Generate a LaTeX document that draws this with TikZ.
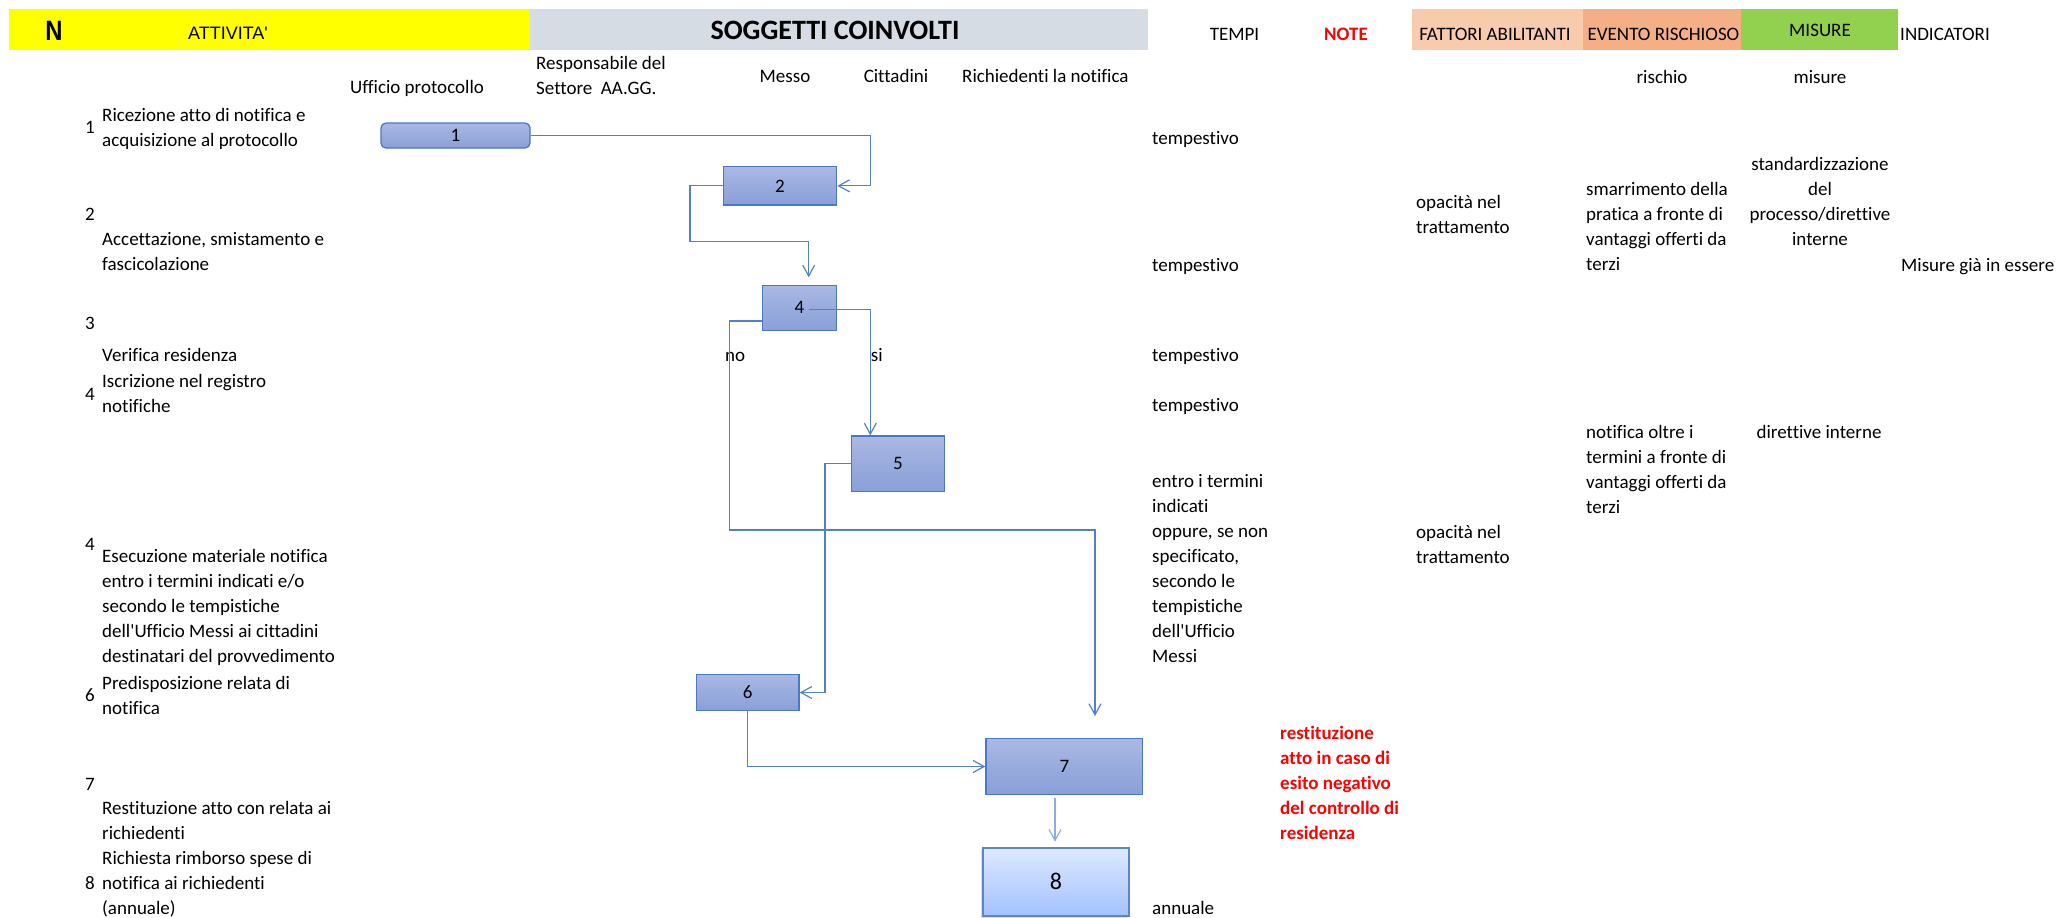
\documentclass[tikz,border=0pt]{standalone}
\usepackage{fontspec}
\usepackage{graphicx}
\setmainfont{Carlito}[Ligatures={NoCommon}]
\newfontfamily\arialfont{Liberation Sans}
\usetikzlibrary{arrows.meta,calc,shadows}

\definecolor{hdryellow}{HTML}{FFFF00}
\definecolor{hdrgray}{HTML}{D6DCE4}
\definecolor{hdrpeach}{HTML}{F8CBAD}
\definecolor{hdrsalmon}{HTML}{F4B084}
\definecolor{hdrgreen}{HTML}{92D050}
\definecolor{boxtop}{HTML}{AAB8E3}
\definecolor{boxbot}{HTML}{889FD8}
\definecolor{boxline}{HTML}{4A77C8}
\definecolor{linkblue}{HTML}{5080CE}
\definecolor{linklight}{HTML}{8DACE0}
\definecolor{endtop}{HTML}{DDE9FF}
\definecolor{endbot}{HTML}{A3C2FF}
\definecolor{endline}{HTML}{5A86C6}

% stacked lines, first baseline on the node's base
\newcommand{\rowsl}[1]{\begin{tabular}[t]{@{}l@{}}#1\end{tabular}}
\newcommand{\rowsc}[1]{\begin{tabular}[t]{@{}c@{}}#1\end{tabular}}

\tikzset{
  body/.style={font=\fontsize{19}{25}\selectfont},
  txt/.style={body, inner sep=0, anchor=base west},
  ctxt/.style={body, inner sep=0, anchor=base},
  num/.style={ctxt},
  note/.style={txt, text=red, font=\fontsize{19}{25}\selectfont\bfseries},
  band/.style={inner sep=0, outer sep=0, draw=none, anchor=north west, minimum height=40.5pt},
  stepbox/.style={draw=boxline, line width=1.3pt, top color=boxtop, bottom color=boxbot, inner sep=0, body},
  conn/.style={draw=linkblue, line width=1.2pt, -{Straight Barb[length=11pt,width=12pt]}},
}

\begin{document}
\begin{tikzpicture}[x=1pt, y=-1pt]
\useasboundingbox (0,0) rectangle (2059,918);

% header bands
\node[band, fill=hdryellow, minimum width=521pt] (hyel) at (9,9) {};
\node[band, fill=hdrgray, minimum width=618pt] (hgry) at (530,9) {};
\node[band, fill=hdrpeach, minimum width=171.3pt] (hpch) at (1411.7,9) {};
\node[band, fill=hdrsalmon, minimum width=158pt] (hsal) at (1583,9) {};
\node[band, fill=hdrgreen, minimum width=157pt] (hgrn) at (1741,9) {};

% header titles
\node[ctxt, font={\fontsize{28}{32}\selectfont\arialfont\bfseries}] (tn) at (54,40) {\scalebox{0.85}[1]{N}};
\node[ctxt, font={\fontsize{18}{22}\selectfont\arialfont}] (tatt) at (228,39.5) {ATTIVITA\textquotesingle};
\node[ctxt, font={\fontsize{28}{34}\selectfont\bfseries}] (tsog) at (835,39) {SOGGETTI COINVOLTI};
\node[ctxt] (ttem) at (1234.5,40) {TEMPI};
\node[ctxt, text=red, font={\fontsize{19}{25}\selectfont\bfseries}] (tnot) at (1346,40) {NOTE};
\node[ctxt] (tfat) at (1495,40) {FATTORI ABILITANTI};
\node[ctxt] (tevt) at (1663.5,40) {EVENTO RISCHIOSO};
\node[ctxt] (tmis) at (1820,36) {MISURE};
\node[txt] (tind) at (1900,40) {INDICATORI};

% subjects and sub-headings
\node[ctxt] (s1) at (417,93) {Ufficio protocollo};
\node[txt] (s2) at (536,69) {\rowsl{Responsabile del\\Settore\ \ AA.GG.}};
\node[ctxt] (s3) at (785,82) {Messo};
\node[ctxt] (s4) at (896,82) {Cittadini};
\node[txt] (s5) at (962,82) {Richiedenti la notifica};
\node[ctxt] (r1) at (1662,83) {rischio};
\node[ctxt] (r2) at (1820,83) {misure};

% activity column
\node[num] (n1) at (90,133) {1};
\node[txt] (a1) at (102,121) {\rowsl{Ricezione atto di notifica e\\acquisizione al protocollo}};
\node[num] (n2) at (90,220) {2};
\node[txt] (a2) at (102,245) {\rowsl{Accettazione, smistamento e\\fascicolazione}};
\node[num] (n3) at (90,329) {3};
\node[txt] (a3) at (102,361) {Verifica residenza};
\node[num] (n4) at (90,400) {4};
\node[txt] (a4) at (102,387) {\rowsl{Iscrizione nel registro\\notifiche}};
\node[num] (n5) at (90,550) {4};
\node[txt] (a5) at (102,562) {\rowsl{Esecuzione materiale notifica\\entro i termini indicati e/o\\secondo le tempistiche\\dell\textquotesingle Ufficio Messi ai cittadini\\destinatari del provvedimento}};
\node[num] (n6) at (90,701) {6};
\node[txt] (a6) at (102,689) {\rowsl{Predisposizione relata di\\notifica}};
\node[num] (n7) at (90,790) {7};
\node[txt] (a7) at (102,814) {\rowsl{Restituzione atto con relata ai\\richiedenti}};
\node[num] (n8) at (90,889) {8};
\node[txt] (a8) at (102,864) {\rowsl{Richiesta rimborso spese di\\notifica ai richiedenti\\(annuale)}};

% timing column
\node[txt] (t1) at (1152,144) {tempestivo};
\node[txt] (t2) at (1152,271) {tempestivo};
\node[txt] (t3) at (1152,361) {tempestivo};
\node[txt] (t4) at (1152,411) {tempestivo};
\node[txt] (t5) at (1152,487) {\rowsl{entro i termini\\indicati\\oppure, se non\\specificato,\\secondo le\\tempistiche\\dell\textquotesingle Ufficio\\Messi}};
\node[txt] (t6) at (1152,914) {annuale};

% notes
\node[note] (nt) at (1280,739) {\rowsl{restituzione\\atto in caso di\\esito negativo\\del controllo di\\residenza}};

% enabling factors, risk events, measures, indicators
\node[txt] (f1) at (1416,208) {\rowsl{opacità nel\\trattamento}};
\node[txt] (f2) at (1416,538) {\rowsl{opacità nel\\trattamento}};
\node[txt] (e1) at (1586,195) {\rowsl{smarrimento della\\pratica a fronte di\\vantaggi offerti da\\terzi}};
\node[txt] (e2) at (1586,438) {\rowsl{notifica oltre i\\termini a fronte di\\vantaggi offerti da\\terzi}};
\node[ctxt] (m1) at (1820,170) {\rowsc{standardizzazione\\del\\processo/direttive\\interne}};
\node[ctxt] (m2) at (1819,438) {direttive interne};
\node[txt] (i1) at (1901,271) {Misure già in essere};

% branch labels
\node[txt] (lno) at (725,361) {no};
\node[txt] (lsi) at (870.7,361) {si};

% process steps
\node[stepbox, rounded corners=5pt, minimum width=149pt, minimum height=25pt] (b1) at (455.5,135.5) {1};
\node[stepbox, minimum width=113.4pt, minimum height=38.3pt] (b2) at (780,185.85) {2};
\node[stepbox, minimum width=74.4pt, minimum height=45pt] (b4) at (799.5,307.8) {4};
\node[stepbox, minimum width=92.6pt, minimum height=55.7pt] (b5) at (898,463.85) {5};
\node[stepbox, minimum width=102.7pt, minimum height=36.4pt] (b6) at (747.65,692.5) {6};
\node[stepbox, minimum width=156.7pt, minimum height=55.6pt] (b7) at (1064.35,766.5) {7};
\node[stepbox, draw=endline, line width=2pt, top color=endtop, bottom color=endbot,
      minimum width=146pt, minimum height=67.8pt, font=\fontsize{24}{30}\selectfont,
      drop shadow={shadow xshift=-2pt, shadow yshift=-2pt, opacity=0.25}] (b8) at (1056,881.6) {8};

% bend points of the connectors
\coordinate (k1) at (870.3,135.5);
\coordinate (k2) at (690,241.3);
\coordinate (k3) at (808.7,277.3);
\coordinate (k4) at (808.7,309.3);
\coordinate (k6) at ($(b4.south west)+(0,-10)$);
\coordinate (k7) at (729.3,530);
\coordinate (k8) at (1095,716);
\coordinate (k9) at (1055,0);

% connectors
\draw[conn] (b1.east) -- (k1) |- (b2.east);
\draw[conn] (b2.west) -| (k2) -| (k3);
\draw[conn] (k4) -| (b5.north -| k1);
\draw[conn] (k6) -| (k7) -| (k8);
\draw[conn] (b5.west) -- ++(-26,0) |- (b6.east);
\draw[conn] (b6.south) |- (b7.west);
\draw[conn, draw=linklight, shorten <=3.4pt, shorten >=5pt] (b7.south -| k9) -- (b8.north -| k9);
\end{tikzpicture}
\end{document}
